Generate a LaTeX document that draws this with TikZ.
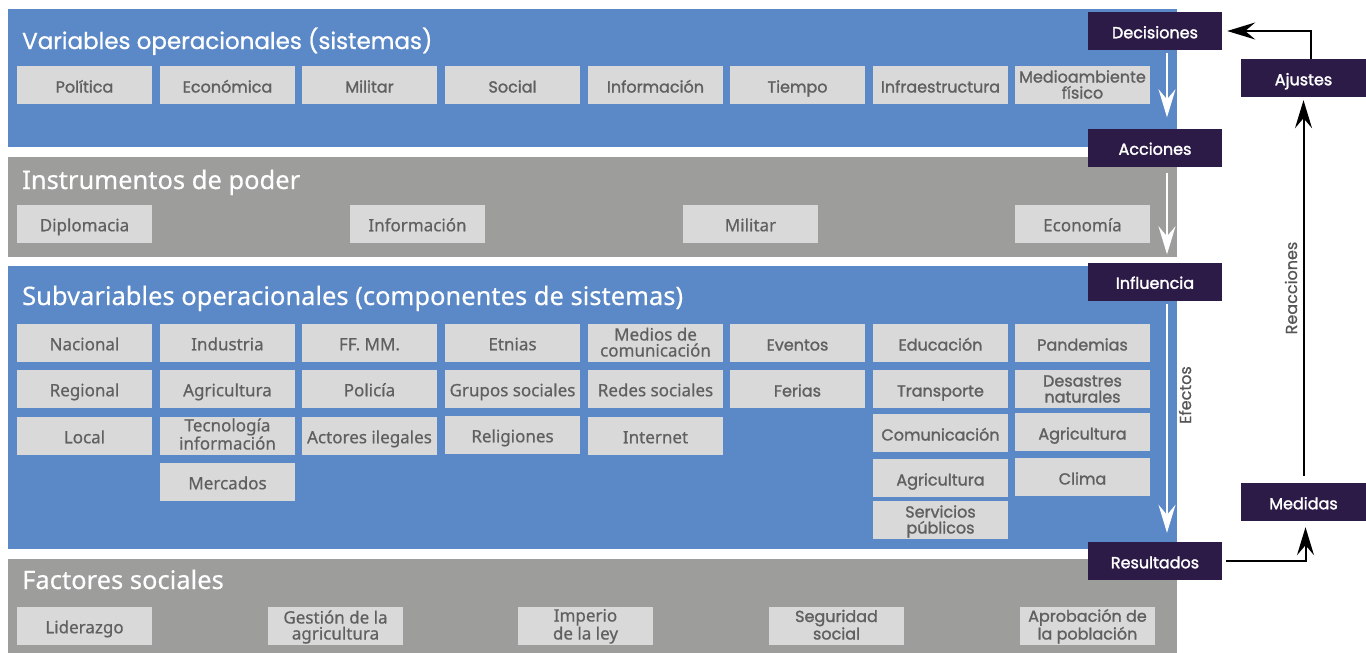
\documentclass[tikz,border=0pt]{standalone}
\usepackage{fontspec}
\setmainfont{Poppins}
\newfontfamily\hum{Noto Sans}[FakeBold=0.6]
\newfontfamily\humt{Noto Sans}[FakeBold=0.4]
\newfontfamily\montb{Poppins}[FakeBold=1.4]
\newfontfamily\montsb{Poppins}[FakeBold=1.8]
\newfontfamily\montt{Poppins}[FakeBold=0.8]
\usetikzlibrary{arrows.meta}
\definecolor{pblue}{HTML}{5B89C7}
\definecolor{pgray}{HTML}{9D9D9B}
\definecolor{boxfill}{HTML}{D9D9D9}
\definecolor{boxtext}{HTML}{606060}
\definecolor{dark}{HTML}{2C1B47}
\definecolor{lbl}{HTML}{555555}
\tikzset{
  ptitle/.style={anchor=base west, text=white, inner sep=0pt},
  mbox/.style={fill=boxfill, minimum width=135pt, minimum height=38pt, inner sep=0pt,
    align=center, text=boxtext, text height=15pt, text depth=0pt,
    font=\montb\fontsize{16}{16}\selectfont},
  mtwo/.style={mbox, text height=27pt},
  hbox/.style={mbox, text height=14.5pt, font=\hum\fontsize{17}{16}\selectfont},
  htwo/.style={hbox, text height=27pt},
  dbox/.style={fill=dark, minimum width=134pt, minimum height=38pt, inner sep=0pt,
    text=white, text height=14.5pt, text depth=0pt, font=\montsb\fontsize{16}{16}\selectfont},
  warrow/.style={draw=white, line width=2pt, -{Stealth[length=28pt,width=17pt,inset=10pt]}},
  barrow/.style={draw=black, line width=2pt, -{Stealth[length=28pt,width=17pt,inset=10pt]}},
  rlabel/.style={rotate=90, text=lbl, font=\montt\fontsize{16}{18}\selectfont, inner sep=0pt}
}
\begin{document}
\begin{tikzpicture}[x=1pt,y=-1pt]
\useasboundingbox (0,0) rectangle (1366,653);
% panels
\fill[pblue] (8,9) rectangle (1177,147);
\fill[pgray] (8,157) rectangle (1177,257);
\fill[pblue] (8,266) rectangle (1177,549);
\fill[pgray] (8,559) rectangle (1177,653);
% titles
\node[ptitle, font=\montt\fontsize{23}{26}\selectfont] (t1) at (22,49) {Variables operacionales (sistemas)};
\node[ptitle, font=\humt\fontsize{25.5}{28}\selectfont] (t2) at (22,189) {Instrumentos de poder};
\node[ptitle, font=\humt\fontsize{25.5}{28}\selectfont] (t3) at (22,305) {Subvariables operacionales (componentes de sistemas)};
\node[ptitle, font=\humt\fontsize{25.5}{28}\selectfont] (t4) at (22,589) {Factores sociales};
% row 1
\node[mbox] (r1) at (84.5,85) {Política};
\node[mbox] (r2) at (227.5,85) {Económica};
\node[mbox] (r3) at (369.5,85) {Militar};
\node[mbox] (r4) at (512.5,85) {Social};
\node[mbox] (r5) at (655.5,85) {Información};
\node[mbox] (r6) at (797.5,85) {Tiempo};
\node[mbox] (r7) at (940.5,85) {Infraestructura};
\node[mtwo] (r8) at (1082.5,85) {Medioambiente\\físico};
% panel 2
\node[hbox] (i1) at (84.5,224) {Diplomacia};
\node[hbox] (i2) at (417.5,224) {Información};
\node[hbox] (i3) at (750.5,224) {Militar};
\node[hbox] (i4) at (1082.5,224) {Economía};
% panel 3
\node[hbox] (s11) at (84.5,343) {Nacional};
\node[hbox] (s12) at (84.5,389) {Regional};
\node[hbox] (s13) at (84.5,436) {Local};
\node[hbox] (s21) at (227.5,343) {Industria};
\node[hbox] (s22) at (227.5,389) {Agricultura};
\node[htwo] (s23) at (227.5,436) {Tecnología\\información};
\node[hbox] (s24) at (227.5,482) {Mercados};
\node[hbox] (s31) at (369.5,343) {FF. MM.};
\node[hbox] (s32) at (369.5,389) {Policía};
\node[hbox] (s33) at (369.5,436) {Actores ilegales};
\node[hbox] (s41) at (512.5,343) {Etnias};
\node[hbox] (s42) at (512.5,389) {Grupos sociales};
\node[hbox] (s43) at (512.5,435) {Religiones};
\node[htwo] (s51) at (655.5,343) {Medios de\\comunicación};
\node[hbox] (s52) at (655.5,389) {Redes sociales};
\node[hbox] (s53) at (655.5,436) {Internet};
\node[mbox] (s61) at (797.5,343) {Eventos};
\node[mbox] (s62) at (797.5,389) {Ferias};
\node[mbox] (s71) at (940.5,343) {Educación};
\node[mbox] (s72) at (940.5,389) {Transporte};
\node[mbox] (s73) at (940.5,433) {Comunicación};
\node[mbox] (s74) at (940.5,478) {Agricultura};
\node[mtwo] (s75) at (940.5,520) {Servicios\\públicos};
\node[mbox] (s81) at (1082.5,343) {Pandemias};
\node[mtwo] (s82) at (1082.5,389) {Desastres\\naturales};
\node[mbox] (s83) at (1082.5,432) {Agricultura};
\node[mbox] (s84) at (1082.5,477) {Clima};
% panel 4
\node[hbox] (f1) at (84.5,626) {Liderazgo};
\node[htwo] (f2) at (335.5,626) {Gestión de la\\agricultura};
\node[htwo] (f3) at (585.5,626) {Imperio\\de la ley};
\node[mtwo] (f4) at (836.5,626) {Seguridad\\social};
\node[mtwo] (f5) at (1087.5,626) {Aprobación de\\la población};
% dark boxes
\node[dbox] (dec) at (1155,31) {Decisiones};
\node[dbox] (acc) at (1155,147.5) {Acciones};
\node[dbox] (inf) at (1155,281.5) {Influencia};
\node[dbox] (res) at (1155,561) {Resultados};
\node[dbox, minimum width=125pt] (aju) at (1303.5,78) {Ajustes};
\node[dbox, minimum width=125pt] (med) at (1303.5,502) {Medidas};
% white arrows
\draw[warrow, shorten <=3pt, shorten >=11pt] ([xshift=12pt]dec.south) -- ([xshift=12pt]acc.north);
\draw[warrow, shorten <=6pt, shorten >=8pt] ([xshift=12pt]acc.south) -- ([xshift=12pt]inf.north);
\draw[warrow, shorten <=3pt, shorten >=9pt] ([xshift=12pt]inf.south) -- ([xshift=12pt]res.north);
% black arrows
\draw[barrow, shorten >=5pt] ([xshift=7pt]aju.north) |- (dec.east);
\draw[barrow, shorten <=7pt, shorten >=3pt] (med.north) -- (aju.south);
\draw[barrow, shorten <=4pt, shorten >=6pt] (res.east) -| ([xshift=2pt]med.south);
% labels
\node[rlabel] (lreac) at (1291,288) {Reacciones};
\node[rlabel] (lefe) at (1185,395) {Efectos};
\end{tikzpicture}
\end{document}
